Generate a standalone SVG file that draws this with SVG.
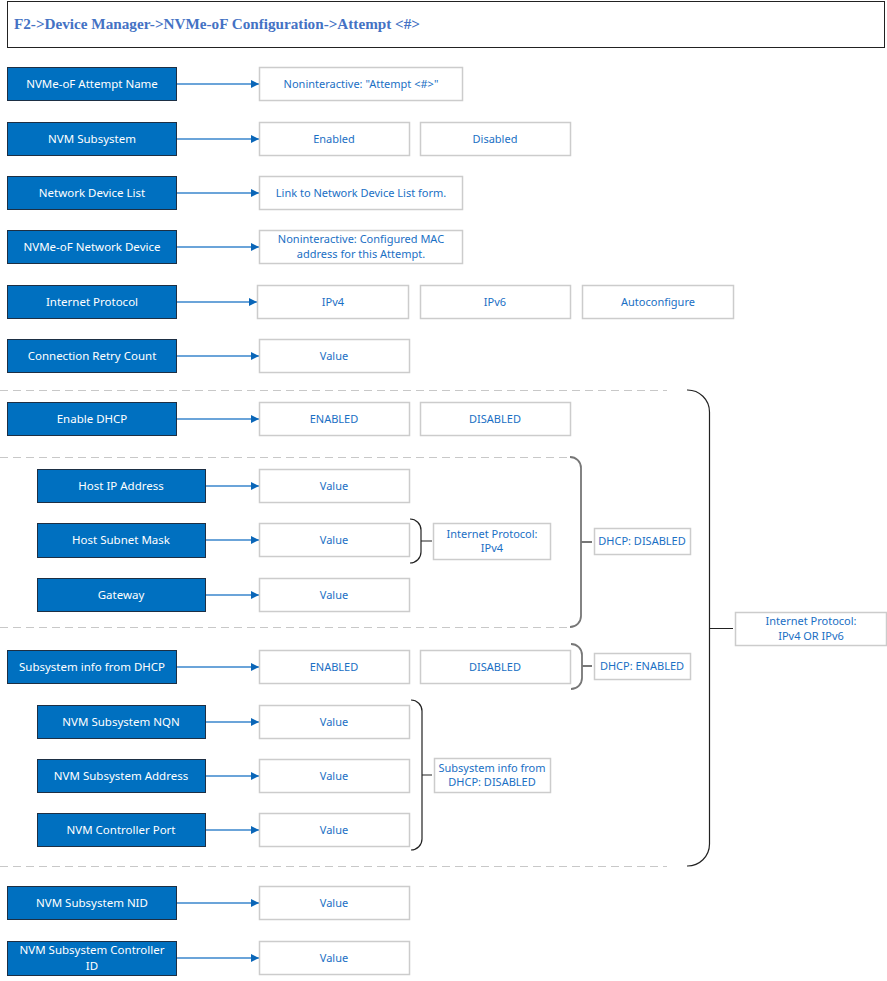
<svg xmlns="http://www.w3.org/2000/svg" width="887" height="981" viewBox="0 0 887 981">
<defs>
<style>
.n rect{fill:#0070C0;stroke:#1d2f44;stroke-width:1}
.n text{fill:#ffffff;font-family:"Noto Sans","Open Sans",sans-serif;font-size:11.5px;text-anchor:middle}
.v rect{fill:#ffffff;stroke:#cccccc;stroke-width:1.5}
.v text{fill:#1a6fc4;font-family:"Noto Sans","Open Sans",sans-serif;font-size:11px;text-anchor:middle}
.c line{stroke:#3a86cc;stroke-width:1.3;marker-end:url(#ah)}
.d{stroke:#c8c8c8;stroke-width:1.2;stroke-dasharray:8 5;fill:none}
.b{fill:none;stroke:#222;stroke-width:1.2}
.bg{fill:none;stroke:#777;stroke-width:1.8}
</style>
<marker id="ah" viewBox="0 0 10 10" refX="10" refY="5" markerWidth="8" markerHeight="8" markerUnits="userSpaceOnUse" orient="auto">
<path d="M0,0 L10,5 L0,10 z" fill="#0a66b8"/>
</marker>
</defs>
<rect width="887" height="981" fill="#ffffff"/>

<g id="title">
<rect x="7.5" y="1.5" width="877" height="46" fill="#fff" stroke="#222" stroke-width="1"/>
<text x="14" y="29" font-family="'Liberation Serif',serif" font-weight="bold" font-size="14.5" fill="#4472C4" textLength="406" lengthAdjust="spacingAndGlyphs">F2-&gt;Device Manager-&gt;NVMe-oF Configuration-&gt;Attempt &lt;#&gt;</text>
</g>

<g id="separators">
<line class="d" x1="0" y1="390.5" x2="667" y2="390.5"/>
<line class="d" x1="0" y1="457.5" x2="570" y2="457.5"/>
<line class="d" x1="0" y1="627.5" x2="570" y2="627.5"/>
<line class="d" x1="0" y1="866.5" x2="667" y2="866.5"/>
</g>

<g id="connectors" class="c">
<line x1="176" y1="84" x2="259" y2="84"/>
<line x1="176" y1="139" x2="259" y2="139"/>
<line x1="176" y1="193" x2="259" y2="193"/>
<line x1="176" y1="247" x2="259" y2="247"/>
<line x1="176" y1="302" x2="257" y2="302"/>
<line x1="176" y1="356" x2="259" y2="356"/>
<line x1="176" y1="419" x2="259" y2="419"/>
<line x1="205" y1="486" x2="259" y2="486"/>
<line x1="205" y1="540" x2="259" y2="540"/>
<line x1="205" y1="595" x2="259" y2="595"/>
<line x1="176" y1="667" x2="259" y2="667"/>
<line x1="205" y1="722" x2="259" y2="722"/>
<line x1="205" y1="776" x2="259" y2="776"/>
<line x1="205" y1="830" x2="259" y2="830"/>
<line x1="176" y1="903" x2="259" y2="903"/>
<line x1="176" y1="958" x2="259" y2="958"/>
</g>

<g id="braces">
<path class="b" d="M687,390 A22,22 0 0 1 709.5,412 L709.5,844 A22,22 0 0 1 687,866 M709.5,628.5 L733,628.5"/>
<path class="bg" d="M570,457 A11,11 0 0 1 581,468 L581,616 A11,11 0 0 1 570,627 M581,542 L592,542"/>
<path class="b" d="M410,519 A11,11 0 0 1 421,530 L421,552 A11,11 0 0 1 410,563 M421,541 L432,541"/>
<path class="bg" d="M571,644 A11,11 0 0 1 582,655 L582,678 A11,11 0 0 1 571,689 M582,666 L592,666"/>
<path class="b" d="M411,700 A11,11 0 0 1 422,711 L422,839 A11,11 0 0 1 411,850 M422,775 L432,775"/>
</g>

<g id="n-attempt-name" class="n"><rect x="7.5" y="67.5" width="169" height="33"/><text x="92" y="88">NVMe-oF Attempt Name</text></g>
<g id="n-nvm-subsystem" class="n"><rect x="7.5" y="122.5" width="169" height="33"/><text x="92" y="143">NVM Subsystem</text></g>
<g id="n-network-device-list" class="n"><rect x="7.5" y="176.5" width="169" height="33"/><text x="92" y="197">Network Device List</text></g>
<g id="n-network-device" class="n"><rect x="7.5" y="230.5" width="169" height="33"/><text x="92" y="251">NVMe-oF Network Device</text></g>
<g id="n-internet-protocol" class="n"><rect x="7.5" y="285.5" width="169" height="33"/><text x="92" y="306">Internet Protocol</text></g>
<g id="n-retry-count" class="n"><rect x="7.5" y="339.5" width="169" height="33"/><text x="92" y="360">Connection Retry Count</text></g>
<g id="n-enable-dhcp" class="n"><rect x="7.5" y="402.5" width="169" height="33"/><text x="92" y="423">Enable DHCP</text></g>
<g id="n-host-ip" class="n"><rect x="37.5" y="469.5" width="168" height="33"/><text x="121" y="490">Host IP Address</text></g>
<g id="n-subnet-mask" class="n"><rect x="37.5" y="523.5" width="168" height="34"/><text x="121" y="544">Host Subnet Mask</text></g>
<g id="n-gateway" class="n"><rect x="37.5" y="578.5" width="168" height="33"/><text x="121" y="599">Gateway</text></g>
<g id="n-subsys-dhcp" class="n"><rect x="7.5" y="650.5" width="169" height="33"/><text x="92" y="671">Subsystem info from DHCP</text></g>
<g id="n-nqn" class="n"><rect x="37.5" y="705.5" width="168" height="33"/><text x="121" y="726">NVM Subsystem NQN</text></g>
<g id="n-subsys-address" class="n"><rect x="37.5" y="759.5" width="168" height="33"/><text x="121" y="780">NVM Subsystem Address</text></g>
<g id="n-controller-port" class="n"><rect x="37.5" y="813.5" width="168" height="33"/><text x="121" y="834">NVM Controller Port</text></g>
<g id="n-nid" class="n"><rect x="7.5" y="886.5" width="169" height="33"/><text x="92" y="907">NVM Subsystem NID</text></g>
<g id="n-controller-id" class="n"><rect x="7.5" y="941.5" width="169" height="34"/><text x="92" y="954">NVM Subsystem Controller</text><text x="92" y="970">ID</text></g>

<g id="v-attempt-name" class="v"><rect x="259.5" y="67.5" width="203" height="33"/><text x="361" y="88">Noninteractive: "Attempt &lt;#&gt;"</text></g>
<g id="v-enabled" class="v"><rect x="259.5" y="122.5" width="150" height="33"/><text x="334" y="143">Enabled</text></g>
<g id="v-disabled" class="v"><rect x="420.5" y="122.5" width="150" height="33"/><text x="495" y="143">Disabled</text></g>
<g id="v-ndl-link" class="v"><rect x="259.5" y="176.5" width="203" height="33"/><text x="361" y="197">Link to Network Device List form.</text></g>
<g id="v-mac" class="v"><rect x="259.5" y="230.5" width="203" height="33"/><text x="361" y="243">Noninteractive: Configured MAC</text><text x="361" y="258">address for this Attempt.</text></g>
<g id="v-ipv4" class="v"><rect x="257.5" y="285.5" width="151" height="33"/><text x="333" y="306">IPv4</text></g>
<g id="v-ipv6" class="v"><rect x="420.5" y="285.5" width="150" height="33"/><text x="495" y="306">IPv6</text></g>
<g id="v-autoconf" class="v"><rect x="582.5" y="285.5" width="151" height="33"/><text x="658" y="306">Autoconfigure</text></g>
<g id="v-retry" class="v"><rect x="259.5" y="339.5" width="150" height="33"/><text x="334" y="360">Value</text></g>
<g id="v-dhcp-en" class="v"><rect x="259.5" y="402.5" width="150" height="33"/><text x="334" y="423">ENABLED</text></g>
<g id="v-dhcp-dis" class="v"><rect x="420.5" y="402.5" width="150" height="33"/><text x="495" y="423">DISABLED</text></g>
<g id="v-host-ip" class="v"><rect x="259.5" y="469.5" width="150" height="33"/><text x="334" y="490">Value</text></g>
<g id="v-subnet" class="v"><rect x="259.5" y="523.5" width="150" height="33"/><text x="334" y="544">Value</text></g>
<g id="v-gateway" class="v"><rect x="259.5" y="578.5" width="150" height="33"/><text x="334" y="599">Value</text></g>
<g id="v-subsys-en" class="v"><rect x="259.5" y="650.5" width="150" height="33"/><text x="334" y="671">ENABLED</text></g>
<g id="v-subsys-dis" class="v"><rect x="420.5" y="650.5" width="150" height="33"/><text x="495" y="671">DISABLED</text></g>
<g id="v-nqn" class="v"><rect x="259.5" y="705.5" width="150" height="33"/><text x="334" y="726">Value</text></g>
<g id="v-address" class="v"><rect x="259.5" y="759.5" width="150" height="33"/><text x="334" y="780">Value</text></g>
<g id="v-port" class="v"><rect x="259.5" y="813.5" width="150" height="33"/><text x="334" y="834">Value</text></g>
<g id="v-nid" class="v"><rect x="259.5" y="886.5" width="150" height="33"/><text x="334" y="907">Value</text></g>
<g id="v-ctrl-id" class="v"><rect x="259.5" y="941.5" width="150" height="33"/><text x="334" y="962">Value</text></g>

<g id="cond-ipv4" class="v"><rect x="433.5" y="523.5" width="117" height="36"/><text x="492" y="538">Internet Protocol:</text><text x="492" y="552">IPv4</text></g>
<g id="cond-dhcp-disabled" class="v"><rect x="594.5" y="528.5" width="96" height="26"/><text x="642" y="545">DHCP: DISABLED</text></g>
<g id="cond-dhcp-enabled" class="v"><rect x="594.5" y="653.5" width="96" height="26"/><text x="642" y="670">DHCP: ENABLED</text></g>
<g id="cond-subsys-disabled" class="v"><rect x="434.5" y="758.5" width="116" height="34"/><text x="492" y="772">Subsystem info from</text><text x="492" y="786">DHCP: DISABLED</text></g>
<g id="cond-ip-any" class="v"><rect x="735.5" y="612.5" width="151" height="33"/><text x="811" y="625">Internet Protocol:</text><text x="811" y="640">IPv4 OR IPv6</text></g>
</svg>
